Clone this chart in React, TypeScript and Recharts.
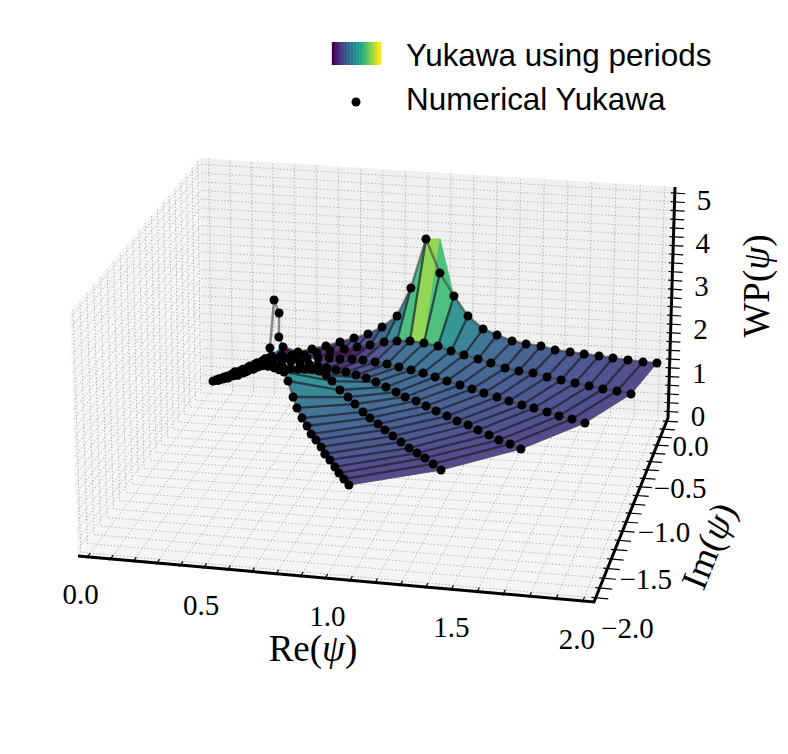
import React from 'react';
import { ScatterChart, Scatter, XAxis, YAxis } from 'recharts';

// ---- numerical Yukawa, one list per ray of constant arg(psi) ----
const re0=[1.950,1.894,1.834,1.773,1.717,1.656,1.599,1.537,1.479,1.417,1.359,1.296,1.237,1.174,1.114,1.054,.995,.931,.871,.806,.745,.684,.622,.560,.497,.435,.367,.350,.352,.331,.309,.299,.272,.240,.208,.171,.134,.098,.061];
const im0=[-.003,-.002,-.005,-.003,-.006,-.004,-.007,-.005,-.006,-.004,-.006,-.006,-.005,-.011,-.009,-.010,-.013,-.011,-.006,-.005,-.004,-.007,-.004,-.006,-.002,-.004,.001,-.005,-.006,-.010,-.004,0,0,0,0,0,0,0,0];
const wp0=[1.18,1.18,1.21,1.23,1.26,1.28,1.31,1.33,1.40,1.42,1.47,1.58,1.69,1.96,2.37,2.85,3.57,2.49,1.86,1.60,1.43,1.33,1.22,1.12,1.03,.95,1.03,1.25,1.77,2.05,1.0,.77,.70,.63,.55,.46,.38,.31,.23];
const re1=[1.900,1.843,1.787,1.730,1.672,1.614,1.556,1.496,1.439,1.382,1.318,1.262,1.202,1.146,1.086,1.025,.963,.886,.811,.744,.686,.630,.572,.519,.485,.428,.377,.334,.301,.263,.229,.195,.157,.118,.079];
const im1=[-.394,-.380,-.379,-.365,-.351,-.338,-.329,-.309,-.313,-.310,-.277,-.261,-.252,-.241,-.213,-.204,-.190,-.083,.013,.041,.047,.041,.022,-.002,-.103,-.091,-.080,-.071,-.064,-.056,-.049,-.042,-.033,-.025,-.017];
const wp1=[1.18,1.2,1.22,1.24,1.26,1.28,1.31,1.34,1.37,1.41,1.44,1.48,1.53,1.58,1.62,1.65,1.65,1.45,1.25,1.12,1.05,1.0,.97,.95,1.06,1.02,.99,.94,.86,.75,.66,.57,.49,.37,.29];
const re2=[1.772,1.718,1.665,1.614,1.558,1.508,1.452,1.400,1.344,1.292,1.239,1.182,1.129,1.074,1.021,.959,.892,.826,.758,.697,.640,.589,.582,.528,.474,.420,.365,.325,.284,.244,.203,.162,.120,.074];
const im2=[-.751,-.727,-.714,-.689,-.664,-.650,-.625,-.604,-.585,-.564,-.543,-.523,-.501,-.474,-.459,-.404,-.320,-.247,-.173,-.111,-.091,-.075,-.259,-.235,-.211,-.187,-.163,-.145,-.127,-.109,-.090,-.072,-.054,-.033];
const wp2=[1.16,1.18,1.2,1.22,1.24,1.26,1.28,1.31,1.34,1.37,1.4,1.43,1.46,1.48,1.5,1.45,1.35,1.25,1.15,1.05,1.0,.98,1.28,1.22,1.17,1.11,1.06,.95,.82,.70,.59,.48,.38,.29];
const re3=[1.577,1.529,1.481,1.436,1.386,1.341,1.293,1.247,1.197,1.150,1.103,1.054,1.009,.959,.909,.848,.787,.726,.667,.617,.626,.579,.532,.485,.438,.390,.346,.297,.248,.198,.148,.097];
const im3=[-1.083,-1.048,-1.024,-.987,-.951,-.920,-.900,-.868,-.836,-.803,-.770,-.749,-.710,-.670,-.631,-.535,-.450,-.365,-.290,-.243,-.455,-.421,-.387,-.352,-.318,-.283,-.252,-.216,-.180,-.144,-.107,-.071];
const wp3=[1.15,1.17,1.19,1.21,1.23,1.26,1.29,1.32,1.35,1.38,1.41,1.44,1.46,1.48,1.5,1.4,1.3,1.2,1.1,1.05,1.45,1.42,1.37,1.32,1.27,1.22,1.11,.95,.79,.65,.52,.38];
const re4=[1.319,1.279,1.238,1.201,1.163,1.122,1.081,1.041,1.005,.964,.928,.883,.847,.815,.779,.715,.704,.664,.624,.584,.544,.503,.462,.420,.372,.324,.274,.218,.162,.104];
const im4=[-1.373,-1.326,-1.279,-1.248,-1.216,-1.173,-1.130,-1.091,-1.052,-1.012,-.977,-.920,-.884,-.892,-.877,-.700,-.781,-.738,-.694,-.649,-.604,-.559,-.513,-.467,-.414,-.359,-.305,-.243,-.179,-.116];
const wp4=[1.15,1.17,1.19,1.22,1.25,1.28,1.31,1.35,1.39,1.43,1.48,1.53,1.6,1.75,1.9,1.7,1.92,1.87,1.78,1.69,1.61,1.54,1.49,1.44,1.30,1.13,.96,.78,.59,.43];
const re5=[1.006,.976,.946,.920,.888,.858,.831,.799,.770,.740,.706,.670,.641,.597,.576,.593,.558,.514,.478,.440,.403,.365,.326,.287,.247,.207,.167,.126,.085];
const im5=[-1.607,-1.559,-1.511,-1.466,-1.411,-1.367,-1.315,-1.264,-1.224,-1.165,-1.107,-1.041,-.984,-.886,-.867,-1.027,-.966,-.891,-.827,-.763,-.697,-.631,-.564,-.497,-.429,-.359,-.289,-.219,-.147];
const wp5=[1.15,1.17,1.19,1.22,1.25,1.28,1.32,1.36,1.4,1.45,1.5,1.58,1.7,1.85,2.0,2.33,2.25,2.14,2.04,1.88,1.71,1.55,1.38,1.21,1.07,.90,.75,.60,.45];

// the surface from the periods departs from the numerical points at a few places
const crestIndex=15; const crestWP=3.59;
const spikeBaseIndex=[27,28,29]; const spikeBaseWP=[.99,.99,1.0];
const bandDepth=[26,24,21,19,17];

const reTicks=[0,.5,1,1.5,2];
const reLabelDx=[-7,-3,2,0,-6];
const imTicks=[0,-.5,-1,-1.5,-2];
const imLabelDx=[42,56,57,57,58];
const wpTicks=[0,1,2,3,4,5];
const legendLabels=['Yukawa using periods','Numerical Yukawa'];

const rows=[[re0,im0,wp0],[re1,im1,wp1],[re2,im2,wp2],[re3,im3,wp3],[re4,im4,wp4],[re5,im5,wp5]];

const W=788,H=754;
const viridis=['#440154','#482475','#414487','#355f8d','#2a788e','#21918c','#22a884','#44bf70','#7ad151','#bddf26','#fde725'];
const hex=(c:string)=>[1,3,5].map(i=>parseInt(c.slice(i,i+2),16));
function vir(t:number){const s=Math.max(0,Math.min(.9999,t))*10,i=Math.floor(s),f=s-i,a=hex(viridis[i]),b=hex(viridis[i+1]);
  return `rgb(${a.map((v,k)=>Math.round(v+(b[k]-v)*f)).join(',')})`;}

function homography(q:number[][]){const [x0,y0]=q[0],[x1,y1]=q[1],[x2,y2]=q[2],[x3,y3]=q[3];
  const dx1=x1-x2,dx2=x3-x2,sx=x0-x1+x2-x3,dy1=y1-y2,dy2=y3-y2,sy=y0-y1+y2-y3,den=dx1*dy2-dx2*dy1;
  const g=(sx*dy2-dx2*sy)/den,h=(dx1*sy-sx*dy1)/den;
  const a=x1-x0+g*x1,b=x3-x0+h*x3,c=x0,d=y1-y0+g*y1,e=y3-y0+h*y3,f=y0;
  return (u:number,v:number)=>{const w=g*u+h*v+1;return [(a*u+b*v+c)/w,(d*u+e*v+f)/w];};}
const floorH=homography([[78,556],[594,602],[668,418],[203,390]]);
const topH=homography([[70,312],[604,360],[675,187],[200,158]]);
const proj=(re:number,im:number,wp:number)=>{const u=re/2,v=im/2+1,p=floorH(u,v),q=topH(u,v),t=wp/5;return {x:p[0]+(q[0]-p[0])*t,y:p[1]+(q[1]-p[1])*t};};
// matplotlib pads each 3D axis beyond its limits
const bRe=(t:number)=>.04+.96*t;
const bIm=(t:number)=>-.04+.96*t;
const bWp=(t:number)=>(t+.15)*5/5.29;
const RE=Array.from({length:21},(_,i)=>i/10);
const IM=Array.from({length:21},(_,i)=>-i/10);
const WP=Array.from({length:26},(_,i)=>i/5);

type Pt={x:number,y:number};
type Ln={pts:Pt[],stroke:string,w:number,dash?:string,op?:number};
const lines=(l:Ln[],pre:string)=>l.map((s,i)=><Scatter key={pre+i} data={s.pts} isAnimationActive={false} legendType="none" shape={()=><g/>}
  line={{stroke:s.stroke,strokeWidth:s.w,strokeDasharray:s.dash,strokeOpacity:s.op??1,strokeLinecap:'butt',fill:'none'}}/>);

const poly=(corners:Pt[],fill:string,op=1,sw=0)=>{const c=corners.reduce((a,p)=>({x:a.x+p.x/corners.length,y:a.y+p.y/corners.length}),{x:0,y:0});
  return {x:c.x,y:c.y,off:corners.map(p=>[p.x-c.x,p.y-c.y]),fill,op,sw};};
const PolyShape=(p:any)=>{const d=p.payload;return <polygon points={d.off.map((o:number[])=>`${p.cx+o[0]},${p.cy+o[1]}`).join(' ')} fill={d.fill} fillOpacity={d.op} stroke={d.sw?d.fill:'none'} strokeWidth={d.sw}/>;};

const panes=[
  poly([proj(0,-2,0),proj(2,-2,0),proj(2,0,0),proj(0,0,0)],'#f5f5f5'),
  poly([proj(0,0,0),proj(2,0,0),proj(2,0,5),proj(0,0,5)],'#f0f0f0'),
  poly([proj(0,-2,0),proj(0,0,0),proj(0,0,5),proj(0,-2,5)],'#f6f6f6'),
];
const G={stroke:'#b4b4b4',w:1,dash:'1.4 2'};
const grid:Ln[]=[
  ...RE.map(t=>({...G,pts:[proj(bRe(t),-2,0),proj(bRe(t),0,0),proj(bRe(t),0,5)]})),
  ...IM.map(t=>({...G,pts:[proj(2,bIm(t),0),proj(0,bIm(t),0),proj(0,bIm(t),5)]})),
  ...WP.map(t=>({...G,pts:[proj(2,0,bWp(t)),proj(0,0,bWp(t)),proj(0,-2,bWp(t))]})),
];
const axes:Ln[]=[
  {pts:[proj(0,-2,0),proj(2,-2,0),proj(2,0,0),proj(2,0,5)],stroke:'#000',w:3},
  ...RE.map(t=>({pts:[proj(bRe(t),-2.015,0),proj(bRe(t),-1.96,0)],stroke:'#000',w:1.2})),
  ...IM.map(t=>({pts:[proj(1.985,bIm(t),0),proj(2.045,bIm(t),0)],stroke:'#000',w:1.2})),
  ...WP.map(t=>({pts:[proj(1.985,0,bWp(t)),proj(2.04,0,bWp(t))],stroke:'#000',w:1.2})),
];

const vertex=(k:number,i:number,wp?:number)=>proj(rows[k][0][i],rows[k][1][i],wp??rows[k][2][i]);
const surfZ=(k:number,i:number)=>k===0&&i===crestIndex?crestWP:rows[k][2][i];
const level=(avg:number)=>avg<1.12?.15-(1.12-avg)*1.8:.15+(avg-1.12)*.45;
const faces:any[]=[];
bandDepth.forEach((depth,k)=>{for(let i=depth-1;i>=0;i--){
  const z=[surfZ(k,i),surfZ(k,i+1),surfZ(k+1,i+1),surfZ(k+1,i)];
  faces.push(poly([vertex(k,i,z[0]),vertex(k,i+1,z[1]),vertex(k+1,i+1,z[2]),vertex(k+1,i,z[3])],vir(level(z.reduce((a,b)=>a+b,0)/4)),.91,.5));
}});
// teal foot of the surface underneath the numerical spike
const foot=[26,...spikeBaseIndex.slice(0,2)];
for(let n=0;n<foot.length-1;n++){const a=foot[n],b=foot[n+1];
  const za=a===26?rows[0][2][26]:spikeBaseWP[spikeBaseIndex.indexOf(a)],zb=spikeBaseWP[spikeBaseIndex.indexOf(b)];
  faces.unshift(poly([vertex(0,a,za),vertex(0,b,zb),vertex(1,b),vertex(1,a)],vir(.46),.93,.5));}

const fans:Ln[]=[];
for(let i=1;i<=26;i++){const pts:Pt[]=[];for(let k=0;k<6;k++){if(i<=(k===0?26:bandDepth[k-1]))pts.push(vertex(k,i));}
  if(pts.length>1)fans.push({pts,stroke:'#20202c',w:2.3,op:.72});}
fans.push({pts:rows.map((_,k)=>vertex(k,0)),stroke:'#555',w:1,op:.8});
const rays:Ln[]=rows.map((_,k)=>({pts:rows[k][0].map((_v,i)=>vertex(k,i)),stroke:'#444',w:2.5,op:.6}));
const dots=rows.flatMap((_,k)=>rows[k][0].map((_v,i)=>vertex(k,i)));

const fs=29, sf='"Liberation Serif",serif', ss='"Liberation Sans",Arial,sans-serif';
const fmt=(t:number)=>(t<0?'\u2212':'')+Math.abs(t).toFixed(1);
const labels:any[]=[
  ...reTicks.map((t,n)=>{const p=proj(bRe(t),-2,0);return {x:p.x+reLabelDx[n],y:p.y+38+fs*.33,t:t.toFixed(1),a:'middle',s:fs,f:sf};}),
  ...imTicks.map((t,n)=>{const p=proj(2,bIm(t),0);return {x:p.x+imLabelDx[n],y:p.y+25-3*t+fs*.33,t:fmt(t),a:'end',s:fs,f:sf};}),
  ...wpTicks.map(t=>{const p=proj(2,0,bWp(t));return {x:698+1.2*t,y:p.y+5+.4*t+fs*.33,t:String(t),a:'middle',s:fs,f:sf};}),
  {x:313,y:661,psi:'Re',a:'middle',s:37,f:sf},
  {x:757,y:286,psi:'WP',a:'middle',s:37,f:sf,rot:-90,ry:12},
  {x:709,y:546,psi:'Im',a:'middle',s:37,f:sf,rot:-68,ry:12},
  {x:406,y:66,t:legendLabels[0],a:'start',s:31.4,f:ss},
  {x:406,y:110,t:legendLabels[1],a:'start',s:31.4,f:ss},
];
const TextShape=(p:any)=>{const d=p.payload;const tr=d.rot!=null?`rotate(${d.rot} ${p.cx} ${p.cy})`:undefined;
  return <text x={p.cx} y={p.cy+(d.ry||0)} transform={tr} textAnchor={d.a} fontSize={d.s} fontFamily={d.f} fill="#000">
    {d.psi?<>{d.psi}(<tspan fontStyle="italic">ψ</tspan>)</>:d.t}</text>;};
const swatch=Array.from({length:16},(_,i)=>({x:333.5+i*3.07,y:53.5,fill:vir(i/15)}));
const SwatchShape=(p:any)=><rect x={p.cx-1.7} y={42} width={3.5} height={23} fill={p.payload.fill}/>;

export default function App(){
  return <div style={{position:'absolute',left:0,top:0,width:W,height:H,background:'#fff'}}>
    <ScatterChart width={W} height={H} margin={{top:0,right:0,bottom:0,left:0}}>
      <XAxis type="number" dataKey="x" domain={[0,W]} hide allowDataOverflow/>
      <YAxis type="number" dataKey="y" domain={[0,H]} reversed hide allowDataOverflow/>
      <Scatter data={panes} isAnimationActive={false} shape={PolyShape}/>
      {lines(grid,'g')}
      {lines(axes,'a')}
      <Scatter data={faces} isAnimationActive={false} shape={PolyShape}/>
      {lines(fans,'f')}
      {lines(rays,'r')}
      <Scatter name="Numerical Yukawa" data={dots} isAnimationActive={false} shape={(p:any)=><circle cx={p.cx} cy={p.cy} r={4.5} fill="#000"/>}/>
      <Scatter data={swatch} isAnimationActive={false} shape={SwatchShape}/>
      <Scatter data={[{x:356,y:102}]} isAnimationActive={false} shape={(p:any)=><circle cx={p.cx} cy={p.cy} r={4.5} fill="#000"/>}/>
      <Scatter data={labels} isAnimationActive={false} shape={TextShape}/>
    </ScatterChart>
  </div>;
}
